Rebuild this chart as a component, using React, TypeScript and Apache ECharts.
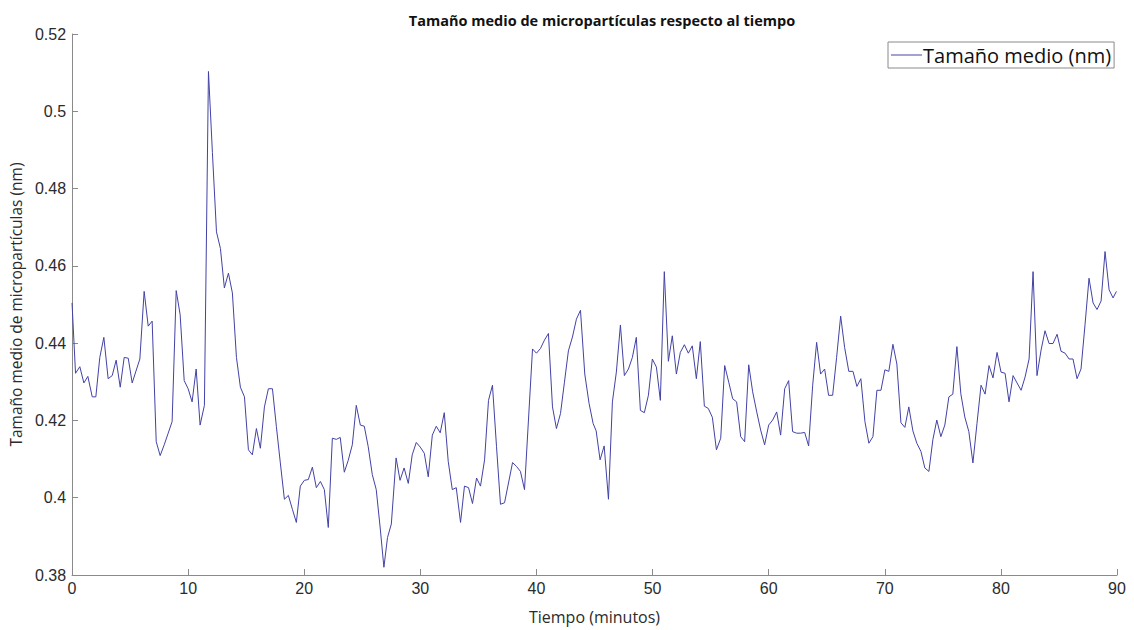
import React, { useEffect, useRef } from "react";
import * as echarts from "echarts";

const chartTitle = "Tamaño medio de micropartículas respecto al tiempo";
const seriesName = "Tamaño medio (nm)";
const xAxisName = "Tiempo (minutos)";
const yAxisName = "Tamaño medio de micropartículas (nm)";

// [tiempo (min), tamaño medio (nm)]
const readings: [number, number][] = [
  [0, 0.4504], [0.3, 0.4322], [0.67, 0.4339], [1.02, 0.4297], [1.36, 0.4314], [1.74, 0.4261],
  [2.05, 0.4261], [2.39, 0.4363], [2.74, 0.4415], [3.11, 0.4308], [3.46, 0.4316], [3.8, 0.4356],
  [4.15, 0.4286], [4.49, 0.4363], [4.84, 0.4361], [5.18, 0.4297], [5.84, 0.4359], [6.21, 0.4534],
  [6.56, 0.4444], [6.9, 0.4457], [7.25, 0.4145], [7.59, 0.4109], [7.94, 0.4137], [8.28, 0.4167],
  [8.62, 0.4197], [8.97, 0.4536], [9.31, 0.4474], [9.66, 0.4303], [10.0, 0.4282], [10.34, 0.4248],
  [10.69, 0.4333], [11.03, 0.4188], [11.4, 0.4239], [11.75, 0.5103], [12.09, 0.4893], [12.44, 0.4688],
  [12.78, 0.4645], [13.12, 0.4543], [13.47, 0.4581], [13.81, 0.453], [14.16, 0.4363], [14.5, 0.4286],
  [14.85, 0.4261], [15.19, 0.4124], [15.53, 0.4111], [15.88, 0.4179], [16.22, 0.4128], [16.57, 0.4235],
  [16.91, 0.4282], [17.26, 0.4282], [17.6, 0.4184], [17.94, 0.409], [18.29, 0.3996], [18.63, 0.4006],
  [18.98, 0.397], [19.32, 0.3936], [19.66, 0.403], [20.01, 0.4045], [20.35, 0.4047], [20.7, 0.4079],
  [21.04, 0.4026], [21.39, 0.4042], [21.73, 0.4021], [22.07, 0.3923], [22.42, 0.4154], [22.76, 0.4151],
  [23.1, 0.4156], [23.45, 0.4066], [23.79, 0.4097], [24.14, 0.4137], [24.48, 0.4239], [24.83, 0.4188],
  [25.17, 0.4185], [25.51, 0.4132], [25.86, 0.406], [26.2, 0.4021], [26.55, 0.3919], [26.86, 0.382],
  [27.17, 0.3897], [27.5, 0.3932], [27.91, 0.4103], [28.25, 0.4045], [28.6, 0.4077], [28.96, 0.4037],
  [29.3, 0.4111], [29.65, 0.4143], [29.99, 0.4131], [30.34, 0.4115], [30.68, 0.4054], [31.03, 0.4162],
  [31.37, 0.4185], [31.71, 0.4168], [32.06, 0.422], [32.4, 0.4094], [32.75, 0.4021], [33.09, 0.4026],
  [33.46, 0.3936], [33.8, 0.403], [34.15, 0.4026], [34.49, 0.3985], [34.84, 0.4051], [35.18, 0.403],
  [35.53, 0.4098], [35.87, 0.4252], [36.21, 0.4291], [36.56, 0.4132], [36.9, 0.3983], [37.25, 0.3987],
  [37.59, 0.4038], [37.94, 0.4091], [38.28, 0.4081], [38.62, 0.4068], [38.97, 0.4021], [39.31, 0.4201],
  [39.66, 0.4385], [40.0, 0.4374], [40.34, 0.4386], [40.69, 0.4408], [41.03, 0.4425], [41.38, 0.4235],
  [41.72, 0.4179], [42.07, 0.4218], [42.41, 0.4299], [42.75, 0.438], [43.1, 0.4416], [43.44, 0.4462],
  [43.79, 0.4485], [44.16, 0.432], [44.53, 0.4244], [44.88, 0.4192], [45.14, 0.4173], [45.48, 0.4098],
  [45.83, 0.4134], [46.2, 0.3996], [46.54, 0.4248], [46.88, 0.4325], [47.23, 0.4447], [47.57, 0.4316],
  [47.92, 0.4333], [48.26, 0.4363], [48.6, 0.4415], [48.95, 0.4226], [49.29, 0.422], [49.64, 0.4265],
  [49.98, 0.4359], [50.33, 0.4338], [50.67, 0.4252], [51.01, 0.4585], [51.36, 0.4353], [51.7, 0.4419],
  [52.05, 0.432], [52.39, 0.4376], [52.74, 0.4396], [53.08, 0.4374], [53.42, 0.4393], [53.77, 0.4308],
  [54.11, 0.4404], [54.46, 0.4237], [54.8, 0.4231], [55.15, 0.4208], [55.5, 0.4124], [55.87, 0.4154],
  [56.21, 0.4342], [56.56, 0.4299], [56.9, 0.4256], [57.24, 0.4248], [57.59, 0.4158], [57.93, 0.4145],
  [58.28, 0.4344], [58.62, 0.4274], [58.97, 0.4222], [59.31, 0.4175], [59.65, 0.4137], [60.0, 0.4188],
  [60.34, 0.4201], [60.69, 0.4222], [61.03, 0.4162], [61.38, 0.4282], [61.72, 0.4303], [62.06, 0.4171],
  [62.41, 0.4167], [62.75, 0.4167], [63.1, 0.4169], [63.44, 0.4134], [63.79, 0.4291], [64.13, 0.4402],
  [64.47, 0.432], [64.82, 0.4333], [65.16, 0.4265], [65.51, 0.4265], [65.85, 0.4363], [66.2, 0.447],
  [66.54, 0.4389], [66.9, 0.4327], [67.26, 0.4327], [67.6, 0.4288], [67.94, 0.4308], [68.29, 0.4197],
  [68.63, 0.4141], [68.98, 0.4158], [69.32, 0.4278], [69.67, 0.4278], [70.01, 0.4331], [70.35, 0.4327],
  [70.7, 0.4397], [71.04, 0.4346], [71.39, 0.4194], [71.73, 0.4182], [72.07, 0.4235], [72.42, 0.4173],
  [72.76, 0.4141], [73.11, 0.412], [73.45, 0.4077], [73.8, 0.4068], [74.14, 0.415], [74.48, 0.4201],
  [74.83, 0.4158], [75.17, 0.4188], [75.52, 0.4261], [75.86, 0.4268], [76.21, 0.4391], [76.55, 0.4269],
  [76.89, 0.4209], [77.24, 0.4171], [77.59, 0.409], [77.94, 0.4192], [78.29, 0.4291], [78.64, 0.4268],
  [78.98, 0.4342], [79.32, 0.431], [79.67, 0.4376], [80.01, 0.4325], [80.36, 0.4322], [80.7, 0.4248],
  [81.05, 0.4316], [81.39, 0.4297], [81.74, 0.4278], [82.08, 0.4312], [82.43, 0.4359], [82.77, 0.4585],
  [83.11, 0.4316], [83.46, 0.4382], [83.8, 0.4432], [84.15, 0.4399], [84.49, 0.4399], [84.84, 0.4423],
  [85.18, 0.4379], [85.53, 0.4374], [85.87, 0.4359], [86.21, 0.4359], [86.56, 0.4308], [86.9, 0.4333],
  [87.25, 0.4449], [87.59, 0.4568], [87.94, 0.4504], [88.28, 0.4487], [88.63, 0.4509], [88.97, 0.4637],
  [89.32, 0.4538], [89.66, 0.4517], [89.95, 0.4534],
];

const xMin = 0;
const xMax = 90;
const xStep = 10;
const yMin = 0.38;
const yMax = 0.52;
const yStep = 0.02;

const lineColor = "#4242a6";
const axisColor = "#8a8a8a";
const textColor = "#2b2b2b";

export default function App() {
  const ref = useRef<HTMLDivElement>(null);

  useEffect(() => {
    document.body.style.margin = "0";
    if (!ref.current) return;
    const chart = echarts.init(ref.current, undefined, { renderer: "svg" });
    chart.setOption({
      animation: false,
      backgroundColor: "#ffffff",
      title: {
        text: chartTitle,
        left: 597,
        textAlign: "center",
        top: 8,
        textStyle: {
          fontFamily: "Open Sans",
          fontWeight: "bold",
          fontSize: 14.5,
          color: "#111111",
        },
      },
      legend: {
        left: 888,
        top: 42,
        orient: "horizontal",
        icon: "rect",
        itemWidth: 31,
        itemHeight: 1,
        itemGap: 2,
        padding: [3, 3, 3, 3],
        borderColor: axisColor,
        borderWidth: 1,
        textStyle: { fontFamily: "Open Sans", fontSize: 20, color: "#111111", padding: [0, 0, 0, -4] },
        data: [seriesName],
      },
      grid: { left: 71, right: 17, top: 34, bottom: 50, containLabel: false },
      xAxis: {
        type: "value",
        min: xMin,
        max: xMax,
        interval: xStep,
        name: xAxisName,
        nameLocation: "middle",
        nameGap: 34,
        nameTextStyle: { fontFamily: "Open Sans", fontSize: 16, color: textColor },
        axisLine: { show: true, lineStyle: { color: axisColor, width: 1 } },
        axisTick: { show: true, inside: true, length: 6, lineStyle: { color: axisColor } },
        axisLabel: {
          fontFamily: "Liberation Sans",
          fontSize: 16,
          color: textColor,
          margin: 5,
        },
        splitLine: { show: false },
      },
      yAxis: {
        type: "value",
        min: yMin,
        max: yMax,
        interval: yStep,
        name: yAxisName,
        nameLocation: "middle",
        nameGap: 46,
        nameRotate: 90,
        nameTextStyle: { fontFamily: "Open Sans", fontSize: 15.5, color: textColor },
        axisLine: { show: true, lineStyle: { color: axisColor, width: 1 } },
        axisTick: { show: true, inside: true, length: 6, lineStyle: { color: axisColor } },
        axisLabel: {
          fontFamily: "Liberation Sans",
          fontSize: 16,
          color: textColor,
          margin: 6,
          formatter: (v: number) => String(+v.toFixed(2)),
        },
        splitLine: { show: false },
      },
      series: [
        {
          name: seriesName,
          type: "line",
          data: readings,
          showSymbol: false,
          symbol: "none",
          lineStyle: { color: lineColor, width: 1 },
          itemStyle: { color: lineColor },
        },
      ],
    });
    return () => chart.dispose();
  }, []);

  return (
    <div
      ref={ref}
      style={{ position: "absolute", left: 0, top: 0, width: 1134, height: 630, background: "#fff" }}
    />
  );
}
